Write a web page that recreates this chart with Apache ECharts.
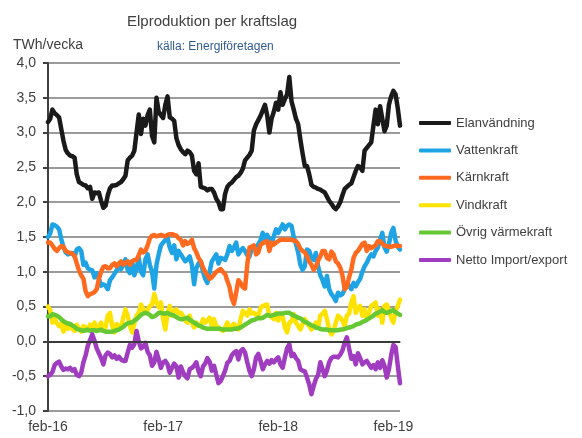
<!DOCTYPE html>
<html>
<head>
<meta charset="utf-8">
<script src="https://cdn.jsdelivr.net/npm/echarts@6/dist/echarts.min.js"></script>
<style>
  html, body { margin: 0; padding: 0; background: #fff; }
  #chart { width: 582px; height: 438px; }
</style>
</head>
<body>
<div id="chart"></div>
<script>
// veckodata feb-16 .. feb-19, TWh/vecka
const tickLabels = ['feb-16', 'feb-17', 'feb-18', 'feb-19']

const elanvandning = [
  3.15, 3.2, 3.33, 3.28, 3.25, 3.22, 3.05, 2.88, 2.75, 2.7, 2.67, 2.66, 2.64, 2.4, 2.29, 2.27, 2.25, 2.24, 2.2, 2.22,
  2.05, 2.14, 2.13, 2.14, 2.02, 1.92, 1.95, 2.1, 2.2, 2.24, 2.24, 2.25, 2.27, 2.29, 2.33, 2.38, 2.6, 2.64, 2.67, 2.74,
  3.0, 3.26, 2.98, 3.2, 3.1, 3.25, 3.33, 2.95, 2.86, 3.5, 3.3, 3.25, 3.21, 3.4, 3.52, 3.22, 3.2, 3.17, 2.92, 2.82,
  2.76, 2.72, 2.69, 2.74, 2.72, 2.67, 2.45, 2.4, 2.56, 2.22, 2.21, 2.2, 2.17, 2.19, 2.19, 2.14, 2.05, 2.0, 1.9, 1.9,
  2.12, 2.22, 2.26, 2.28, 2.32, 2.36, 2.38, 2.42, 2.48, 2.6, 2.64, 2.68, 2.74, 3.03, 3.12, 3.18, 3.24, 3.32, 3.4, 3.25,
  3.0, 3.2, 3.3, 3.43, 3.33, 3.58, 3.4, 3.48, 3.55, 3.8, 3.45, 3.33, 3.2, 3.12, 2.9, 2.7, 2.52, 2.52, 2.4, 2.25,
  2.22, 2.21, 2.19, 2.18, 2.16, 2.14, 2.08, 2.02, 1.98, 1.93, 1.9, 1.94, 2.0, 2.1, 2.19, 2.22, 2.25, 2.27, 2.36, 2.45,
  2.52, 2.5, 2.45, 2.74, 2.78, 2.82, 2.86, 3.1, 3.33, 3.12, 3.38, 3.2, 3.02, 3.1, 3.4, 3.52, 3.6, 3.55, 3.35, 3.1
]

const vattenkraft = [
  1.5, 1.55, 1.68, 1.67, 1.65, 1.61, 1.47, 1.35, 1.28, 1.25, 1.26, 1.27, 1.22, 1.32, 1.34, 1.3, 1.1, 1.13, 1.05, 1.03,
  1.02, 0.92, 0.98, 0.9, 0.8, 0.82, 0.8, 0.75, 0.88, 0.92, 0.97, 1.02, 1.08, 1.04, 1.1, 1.18, 1.03, 0.98, 1.15, 0.95,
  1.05, 1.2, 1.0, 0.95, 1.18, 1.25, 1.1, 1.0, 0.76, 1.1, 1.25, 1.38, 1.42, 1.46, 1.49, 1.35, 1.27, 1.38, 1.18, 1.3,
  1.25, 1.2, 1.15, 1.18, 1.22, 1.1, 0.82, 1.05, 1.12, 1.15, 1.0, 0.9, 0.84, 1.0, 1.15, 1.2, 1.25, 1.12, 1.2, 1.19,
  1.17, 1.25, 1.37, 1.3, 1.35, 1.42, 1.25, 1.3, 1.34, 1.3, 1.24, 1.22, 1.33, 1.33, 1.32, 1.4, 1.45, 1.56, 1.46, 1.53,
  1.45, 1.4, 1.51, 1.61, 1.56, 1.62, 1.68, 1.61, 1.66, 1.68, 1.66, 1.5, 1.4, 1.28, 1.1, 1.03, 1.08, 1.32, 1.3, 1.2,
  1.17, 1.27, 1.08, 0.95, 0.88, 0.79, 0.94, 0.75, 0.68, 0.64, 0.58, 0.7, 0.66, 0.68, 0.75, 0.82, 0.8, 0.75, 0.84, 0.79,
  0.85, 0.9, 1.0, 1.08, 1.13, 1.2, 1.25, 1.22, 1.3, 1.35, 1.46, 1.56, 1.35, 1.29, 1.4, 1.56, 1.63, 1.45, 1.36, 1.32
]

const karnkraft = [
  1.42, 1.42, 1.38, 1.33, 1.3, 1.34, 1.37, 1.36, 1.3, 1.28, 1.27, 1.26, 1.23, 1.12, 1.02, 0.95, 0.9, 0.72, 0.65, 0.68,
  0.69, 0.71, 0.75, 0.9, 1.0, 1.07, 1.08, 1.05, 1.05, 1.1, 1.12, 1.08, 1.12, 1.15, 1.1, 1.13, 1.15, 1.1, 1.15, 1.17,
  1.17, 1.24, 1.32, 1.28, 1.3, 1.38, 1.48, 1.52, 1.53, 1.51, 1.52, 1.53, 1.52, 1.51, 1.53, 1.54, 1.54, 1.53, 1.52, 1.48,
  1.46, 1.38, 1.44, 1.4, 1.42, 1.46, 1.34, 1.28, 1.2, 1.15, 1.06, 1.0, 0.95, 0.9, 0.92, 0.96, 1.0, 1.02, 1.04, 1.0,
  0.97, 0.87, 0.78, 0.62, 0.54, 0.7, 0.88, 0.84, 0.78, 0.76, 1.1, 1.35, 1.36, 1.38, 1.25, 1.28, 1.39, 1.41, 1.43, 1.44,
  1.3, 1.42, 1.39, 1.42, 1.44, 1.46, 1.46, 1.46, 1.46, 1.46, 1.46, 1.45, 1.44, 1.4, 1.33, 1.3, 1.28, 1.22, 1.15, 1.1,
  1.03, 1.07, 1.16, 1.22, 1.3, 1.3, 1.2, 1.18, 1.29, 1.25, 1.15, 1.12, 1.06, 0.95, 0.75, 0.78, 0.92, 1.03, 1.2, 1.27,
  1.3, 1.35, 1.4, 1.42, 1.3, 1.37, 1.34, 1.36, 1.38, 1.44, 1.44, 1.4, 1.38, 1.37, 1.36, 1.36, 1.37, 1.38, 1.37, 1.37
]

const vindkraft = [
  0.5, 0.45, 0.27, 0.32, 0.26, 0.22, 0.26, 0.14, 0.26, 0.18, 0.22, 0.18, 0.15, 0.24, 0.18, 0.14, 0.22, 0.2, 0.17, 0.24,
  0.2, 0.27, 0.15, 0.22, 0.27, 0.17, 0.2, 0.37, 0.41, 0.22, 0.13, 0.25, 0.22, 0.2, 0.34, 0.46, 0.37, 0.22, 0.13, 0.25,
  0.37, 0.41, 0.53, 0.46, 0.41, 0.45, 0.51, 0.53, 0.68, 0.56, 0.49, 0.56, 0.32, 0.17, 0.41, 0.51, 0.37, 0.44, 0.46, 0.4,
  0.41, 0.37, 0.3, 0.27, 0.37, 0.27, 0.2, 0.27, 0.22, 0.22, 0.32, 0.27, 0.3, 0.34, 0.22, 0.32, 0.22, 0.2, 0.17, 0.15,
  0.2, 0.27, 0.18, 0.22, 0.25, 0.2, 0.17, 0.32, 0.44, 0.41, 0.37, 0.46, 0.4, 0.41, 0.38, 0.37, 0.48, 0.51, 0.52, 0.53,
  0.37, 0.35, 0.32, 0.41, 0.3, 0.37, 0.35, 0.2, 0.13, 0.27, 0.29, 0.39, 0.27, 0.22, 0.17, 0.25, 0.32, 0.26, 0.22, 0.17,
  0.22, 0.27, 0.2, 0.37, 0.4, 0.44, 0.32, 0.17, 0.1, 0.15, 0.27, 0.37, 0.34, 0.3, 0.22, 0.37, 0.4, 0.56, 0.65, 0.41,
  0.48, 0.51, 0.37, 0.46, 0.32, 0.41, 0.51, 0.53, 0.56, 0.37, 0.46, 0.27, 0.51, 0.53, 0.45, 0.34, 0.27, 0.44, 0.51, 0.6
]

const ovrigVarmekraft = [
  0.36, 0.36, 0.39, 0.38, 0.37, 0.35, 0.32, 0.29, 0.27, 0.26, 0.25, 0.23, 0.21, 0.18, 0.17, 0.16, 0.15, 0.16, 0.17, 0.15,
  0.16, 0.16, 0.15, 0.16, 0.17, 0.15, 0.14, 0.14, 0.14, 0.14, 0.15, 0.16, 0.17, 0.19, 0.21, 0.24, 0.26, 0.27, 0.27, 0.3,
  0.32, 0.35, 0.38, 0.4, 0.41, 0.4, 0.38, 0.35, 0.36, 0.38, 0.41, 0.41, 0.4, 0.4, 0.41, 0.39, 0.38, 0.37, 0.35, 0.33,
  0.32, 0.32, 0.33, 0.34, 0.31, 0.29, 0.27, 0.25, 0.23, 0.22, 0.2, 0.19, 0.18, 0.18, 0.18, 0.18, 0.18, 0.18, 0.18, 0.17,
  0.17, 0.17, 0.17, 0.17, 0.18, 0.18, 0.19, 0.2, 0.22, 0.24, 0.26, 0.28, 0.3, 0.31, 0.32, 0.34, 0.33, 0.34, 0.36, 0.38,
  0.37, 0.37, 0.38, 0.39, 0.4, 0.4, 0.4, 0.41, 0.41, 0.41, 0.39, 0.37, 0.36, 0.34, 0.33, 0.31, 0.28, 0.27, 0.25, 0.23,
  0.22, 0.2, 0.19, 0.18, 0.17, 0.17, 0.17, 0.16, 0.16, 0.16, 0.16, 0.16, 0.17, 0.17, 0.18, 0.19, 0.2, 0.21, 0.22, 0.24,
  0.25, 0.26, 0.28, 0.29, 0.31, 0.33, 0.35, 0.37, 0.4, 0.41, 0.43, 0.45, 0.42, 0.41, 0.42, 0.44, 0.45, 0.42, 0.4, 0.38
]

const nettoImportExport = [
  -0.5, -0.48, -0.44, -0.34, -0.31, -0.29, -0.36, -0.41, -0.39, -0.4, -0.38, -0.42, -0.4, -0.48, -0.5, -0.45, -0.3, -0.2, -0.06, 0.02,
  0.1, 0.01, -0.1, -0.17, -0.24, -0.33, -0.2, -0.16, -0.18, -0.23, -0.2, -0.25, -0.22, -0.26, -0.28, -0.28, -0.16, -0.05, -0.09, -0.04,
  0.15, 0.0, -0.1, -0.08, -0.02, -0.15, -0.2, -0.35, -0.3, -0.15, -0.26, -0.38, -0.3, -0.28, -0.33, -0.45, -0.38, -0.32, -0.36, -0.52,
  -0.36, -0.44, -0.5, -0.53, -0.4, -0.38, -0.35, -0.3, -0.43, -0.5, -0.36, -0.32, -0.24, -0.29, -0.42, -0.35, -0.48, -0.6, -0.57, -0.5,
  -0.42, -0.31, -0.28, -0.2, -0.16, -0.14, -0.26, -0.14, -0.11, -0.16, -0.3, -0.42, -0.5, -0.4, -0.23, -0.18, -0.28, -0.4, -0.33, -0.28,
  -0.32, -0.27, -0.3, -0.26, -0.23, -0.33, -0.38, -0.23, -0.1, -0.04, -0.21, -0.18, -0.24, -0.28, -0.4, -0.42, -0.43, -0.52, -0.62, -0.76,
  -0.64, -0.54, -0.48, -0.3, -0.4, -0.5, -0.42, -0.3, -0.24, -0.22, -0.22, -0.23, -0.19, -0.13, -0.02, 0.06, -0.1, -0.25, -0.21, -0.33,
  -0.17, -0.24, -0.33, -0.3, -0.28, -0.33, -0.38, -0.34, -0.4, -0.3, -0.38, -0.27, -0.35, -0.52, -0.4, -0.2, -0.05, -0.08, -0.35, -0.6
]

const seriesNames = ['Elanvändning', 'Vattenkraft', 'Kärnkraft', 'Vindkraft', 'Övrig värmekraft', 'Netto Import/export']
const seriesColors = ['#1a1a1a', '#1ea3e4', '#ff6a1f', '#ffe300', '#66c832', '#a03cc0']
const seriesValues = [elanvandning, vattenkraft, karnkraft, vindkraft, ovrigVarmekraft, nettoImportExport]

const chart = echarts.init(document.getElementById('chart'))

const font = 'Liberation Sans'
const textColor = '#404040'

const option = {
  animation: false,
  textStyle: { fontFamily: font },
  title: [
    { text: 'Elproduktion per kraftslag', left: 122, top: 9, textStyle: { fontSize: 15, fontWeight: 'normal', color: textColor, fontFamily: font } },
    { text: 'källa: Energiföretagen', left: 152, top: 36, textStyle: { fontSize: 12, fontWeight: 'normal', color: '#2f5b8f', fontFamily: font } },
    { text: 'TWh/vecka', left: 8, top: 33, textStyle: { fontSize: 14, fontWeight: 'normal', color: textColor, fontFamily: font } }
  ],
  legend: {
    orient: 'vertical',
    left: 414,
    top: 110,
    itemWidth: 32,
    itemHeight: 4,
    itemGap: 11.4,
    icon: 'roundRect',
    textStyle: { fontSize: 13, color: textColor, fontFamily: font, lineHeight: 16 },
    data: seriesNames
  },
  grid: { left: 48, right: 182, top: 63, bottom: 27 },
  xAxis: {
    type: 'value',
    min: 0,
    max: 159,
    interval: 52,
    axisLine: { show: true, lineStyle: { color: '#a6a6a6', width: 2 } },
    axisTick: { show: false },
    splitLine: { show: false },
    axisLabel: {
      fontSize: 14,
      color: textColor,
      margin: 9,
      showMaxLabel: false,
      formatter: v => (v % 52 === 0 ? tickLabels[v / 52] : '')
    }
  },
  yAxis: {
    type: 'value',
    min: -1,
    max: 4,
    interval: 0.5,
    axisLine: { show: true, onZero: false, lineStyle: { color: '#404040', width: 2 } },
    axisTick: { show: true, inside: false, length: 5, lineStyle: { color: '#404040', width: 2 } },
    splitLine: { show: true, lineStyle: { color: '#7a7a7a', width: 1.5 } },
    axisLabel: {
      fontSize: 14,
      color: textColor,
      margin: 12,
      formatter: v => v.toFixed(1).replace('.', ',')
    }
  },
  series: seriesNames.map((name, k) => ({
    name,
    type: 'line',
    data: seriesValues[k].map((v, i) => [i, v]),
    symbol: 'none',
    smooth: false,
    lineStyle: { color: seriesColors[k], width: 4.5, cap: 'round', join: 'round' },
    itemStyle: { color: seriesColors[k] },
    markLine: k === 0 ? {
      silent: true,
      symbol: 'none',
      label: { show: false },
      lineStyle: { color: '#3a3a3a', width: 2, type: 'solid' },
      data: [{ yAxis: 0 }]
    } : undefined
  }))
}

chart.setOption(option)
</script>
</body>
</html>
